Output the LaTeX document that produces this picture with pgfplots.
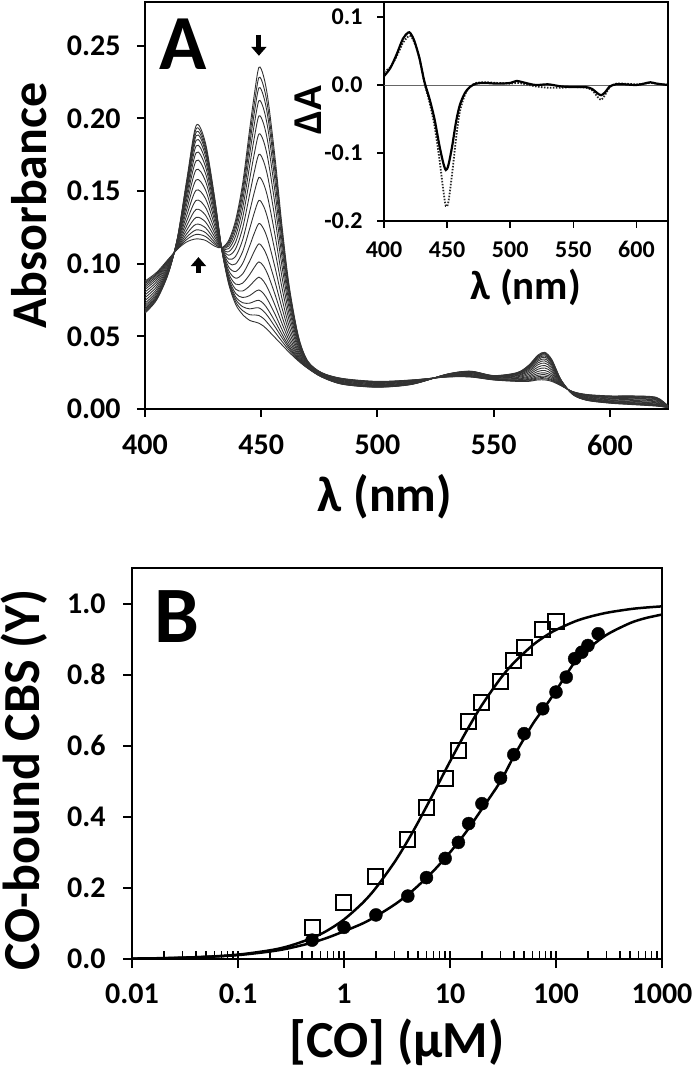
\documentclass[border=0pt]{standalone}
\usepackage{fontspec}
\setmainfont{Carlito}
\usepackage{pgfplots}
\usepackage{pgfplotstable}
\pgfplotsset{compat=1.18}
\usetikzlibrary{arrows.meta}
\newcommand{\fs}[1]{\fontsize{#1}{#1}\selectfont\bfseries}

\pgfplotstableread{
lam c1 c2 c3 c4 c5 c6 c7 c8 c9 c10 c11 c12 c13 c14 c15 c16 c17 c18
400 0.088 0.0871 0.0862 0.0851 0.0838 0.0823 0.0805 0.0785 0.0766 0.0746 0.0728 0.0713 0.0700 0.0689 0.0680 0.0673 0.0667 0.066
405 0.094 0.0932 0.0925 0.0915 0.0904 0.0891 0.0875 0.0858 0.0841 0.0824 0.0809 0.0796 0.0784 0.0775 0.0767 0.0761 0.0756 0.075
410 0.103 0.1026 0.1022 0.1017 0.1011 0.1004 0.0996 0.0987 0.0978 0.0969 0.0961 0.0954 0.0948 0.0943 0.0939 0.0936 0.0933 0.093
414 0.110 0.1103 0.1106 0.1110 0.1115 0.1121 0.1127 0.1134 0.1142 0.1149 0.1155 0.1161 0.1166 0.1170 0.1173 0.1175 0.1178 0.118
418 0.115 0.1167 0.1184 0.1206 0.1232 0.1262 0.1296 0.1335 0.1374 0.1412 0.1447 0.1477 0.1503 0.1524 0.1541 0.1554 0.1567 0.158
422 0.117 0.1201 0.1232 0.1271 0.1318 0.1373 0.1435 0.1505 0.1576 0.1646 0.1708 0.1763 0.1810 0.1849 0.1880 0.1903 0.1927 0.195
426 0.116 0.1187 0.1214 0.1247 0.1287 0.1334 0.1388 0.1448 0.1508 0.1569 0.1622 0.1669 0.1709 0.1743 0.1770 0.1790 0.1810 0.183
430 0.112 0.1133 0.1146 0.1163 0.1183 0.1206 0.1232 0.1262 0.1292 0.1321 0.1348 0.1371 0.1391 0.1407 0.1420 0.1430 0.1440 0.145
433 0.111 0.1110 0.1109 0.1109 0.1108 0.1107 0.1107 0.1106 0.1105 0.1104 0.1103 0.1102 0.1102 0.1101 0.1101 0.1101 0.1100 0.110
436 0.116 0.1148 0.1136 0.1121 0.1103 0.1082 0.1058 0.1031 0.1004 0.0977 0.0953 0.0932 0.0914 0.0899 0.0887 0.0878 0.0869 0.086
439 0.130 0.1277 0.1254 0.1225 0.1190 0.1149 0.1103 0.1051 0.0998 0.0946 0.0900 0.0859 0.0824 0.0795 0.0772 0.0755 0.0737 0.072
442 0.155 0.1514 0.1478 0.1433 0.1379 0.1316 0.1244 0.1163 0.1082 0.1001 0.0929 0.0866 0.0812 0.0767 0.0731 0.0704 0.0677 0.065
445 0.192 0.1868 0.1815 0.1750 0.1671 0.1579 0.1475 0.1357 0.1239 0.1121 0.1016 0.0924 0.0846 0.0780 0.0728 0.0689 0.0649 0.061
447 0.216 0.2098 0.2035 0.1957 0.1864 0.1754 0.1630 0.1489 0.1349 0.1208 0.1084 0.0974 0.0881 0.0803 0.0740 0.0694 0.0647 0.060
449 0.235 0.2280 0.2209 0.2121 0.2016 0.1892 0.1752 0.1593 0.1435 0.1276 0.1136 0.1012 0.0907 0.0819 0.0748 0.0696 0.0643 0.059
451 0.229 0.2221 0.2152 0.2066 0.1963 0.1843 0.1705 0.1550 0.1396 0.1241 0.1103 0.0983 0.0880 0.0794 0.0725 0.0673 0.0622 0.057
453 0.212 0.2057 0.1994 0.1915 0.1820 0.1709 0.1583 0.1441 0.1298 0.1156 0.1030 0.0919 0.0824 0.0745 0.0682 0.0635 0.0587 0.054
456 0.172 0.1671 0.1622 0.1560 0.1486 0.1400 0.1302 0.1191 0.1080 0.0970 0.0871 0.0785 0.0711 0.0650 0.0601 0.0564 0.0527 0.049
459 0.125 0.1218 0.1185 0.1145 0.1096 0.1039 0.0975 0.0902 0.0829 0.0756 0.0691 0.0634 0.0586 0.0545 0.0513 0.0489 0.0464 0.044
462 0.085 0.0832 0.0813 0.0790 0.0763 0.0730 0.0694 0.0652 0.0611 0.0569 0.0533 0.0500 0.0473 0.0450 0.0431 0.0418 0.0404 0.039
466 0.050 0.0493 0.0486 0.0478 0.0468 0.0456 0.0442 0.0427 0.0412 0.0396 0.0383 0.0371 0.0361 0.0352 0.0345 0.0340 0.0335 0.033
470 0.033 0.0328 0.0326 0.0323 0.0320 0.0317 0.0313 0.0308 0.0304 0.0299 0.0295 0.0292 0.0289 0.0286 0.0284 0.0283 0.0281 0.028
476 0.025 0.0249 0.0248 0.0246 0.0244 0.0242 0.0240 0.0237 0.0234 0.0232 0.0229 0.0227 0.0225 0.0224 0.0223 0.0222 0.0221 0.022
485 0.021 0.0208 0.0207 0.0205 0.0202 0.0200 0.0196 0.0193 0.0189 0.0186 0.0182 0.0180 0.0177 0.0175 0.0174 0.0172 0.0171 0.017
500 0.019 0.0188 0.0187 0.0185 0.0182 0.0180 0.0176 0.0173 0.0169 0.0166 0.0162 0.0160 0.0157 0.0155 0.0154 0.0152 0.0151 0.015
515 0.020 0.0199 0.0198 0.0196 0.0194 0.0192 0.0190 0.0187 0.0184 0.0182 0.0179 0.0177 0.0175 0.0174 0.0173 0.0172 0.0171 0.017
530 0.022 0.0221 0.0222 0.0223 0.0224 0.0225 0.0227 0.0229 0.0230 0.0232 0.0234 0.0235 0.0236 0.0237 0.0238 0.0239 0.0239 0.024
540 0.022 0.0222 0.0223 0.0225 0.0228 0.0230 0.0234 0.0237 0.0241 0.0244 0.0248 0.0250 0.0253 0.0255 0.0256 0.0258 0.0259 0.026
550 0.020 0.0201 0.0202 0.0204 0.0206 0.0208 0.0210 0.0213 0.0216 0.0218 0.0221 0.0223 0.0225 0.0226 0.0227 0.0228 0.0229 0.023
560 0.019 0.0192 0.0195 0.0198 0.0201 0.0206 0.0210 0.0216 0.0221 0.0227 0.0231 0.0236 0.0239 0.0242 0.0245 0.0246 0.0248 0.025
565 0.019 0.0194 0.0199 0.0204 0.0211 0.0219 0.0227 0.0237 0.0247 0.0257 0.0266 0.0274 0.0280 0.0286 0.0290 0.0293 0.0297 0.030
569 0.020 0.0207 0.0214 0.0222 0.0232 0.0244 0.0258 0.0273 0.0288 0.0304 0.0317 0.0329 0.0339 0.0348 0.0355 0.0360 0.0365 0.037
572 0.020 0.0208 0.0215 0.0225 0.0236 0.0249 0.0265 0.0282 0.0299 0.0316 0.0331 0.0344 0.0356 0.0365 0.0373 0.0379 0.0384 0.039
575 0.019 0.0196 0.0202 0.0210 0.0219 0.0229 0.0241 0.0255 0.0268 0.0282 0.0294 0.0304 0.0313 0.0321 0.0327 0.0331 0.0336 0.034
579 0.016 0.0162 0.0163 0.0165 0.0168 0.0170 0.0174 0.0177 0.0181 0.0184 0.0188 0.0190 0.0193 0.0195 0.0196 0.0198 0.0199 0.020
584 0.012 0.0119 0.0118 0.0117 0.0116 0.0115 0.0113 0.0111 0.0110 0.0108 0.0106 0.0105 0.0104 0.0103 0.0102 0.0101 0.0101 0.010
590 0.010 0.0098 0.0097 0.0095 0.0092 0.0090 0.0086 0.0083 0.0079 0.0076 0.0072 0.0070 0.0067 0.0065 0.0064 0.0062 0.0061 0.006
600 0.009 0.0088 0.0086 0.0084 0.0081 0.0077 0.0073 0.0069 0.0064 0.0060 0.0056 0.0052 0.0049 0.0047 0.0045 0.0044 0.0042 0.004
610 0.009 0.0088 0.0085 0.0082 0.0079 0.0074 0.0070 0.0064 0.0059 0.0053 0.0049 0.0044 0.0041 0.0038 0.0035 0.0034 0.0032 0.003
620 0.008 0.0078 0.0075 0.0072 0.0069 0.0064 0.0060 0.0054 0.0049 0.0043 0.0039 0.0034 0.0031 0.0028 0.0025 0.0024 0.0022 0.002
625 0.002 0.0020 0.0020 0.0020 0.0020 0.0020 0.0020 0.0020 0.0015 0.0015 0.0015 0.0013 0.0012 0.0011 0.0011 0.0010 0.0010 0.001
}\spectra

\pgfplotstableread{
lam s d
400 0.013 0.020
405 0.025 0.026
410 0.045 0.042
415 0.068 0.062
419 0.077 0.071
421 0.076 0.072
424 0.065 0.063
428 0.040 0.040
432 0.005 0.003
436 -0.020 -0.025
440 -0.050 -0.060
444 -0.090 -0.110
447 -0.115 -0.155
449 -0.125 -0.178
451 -0.118 -0.172
454 -0.090 -0.130
457 -0.055 -0.080
460 -0.030 -0.040
464 -0.012 -0.015
468 -0.003 -0.003
473 0.002 0.003
480 0.003 0.004
490 0.002 0.003
500 0.003 0.002
505 0.006 0.003
510 0.004 0.002
520 0.000 -0.002
530 0.001 -0.004
540 -0.002 -0.004
550 -0.003 -0.003
560 -0.003 -0.004
565 -0.006 -0.008
569 -0.012 -0.017
572 -0.015 -0.022
575 -0.011 -0.015
579 -0.002 -0.003
584 0.001 0.002
590 0.001 0.002
600 0.000 0.001
606 0.002 0.002
611 0.004 0.003
616 0.002 0.002
625 0.000 0.000
}\diffA

\pgfplotstableread{
x y
0.5 0.088
1 0.160
2 0.231
4 0.336
6 0.426
9 0.508
12 0.587
15 0.667
20 0.723
30 0.782
40 0.840
50 0.875
75 0.926
100 0.950
}\squares

\pgfplotstableread{
x y
0.5 0.053
1 0.089
2 0.124
4 0.177
6 0.229
9 0.283
12 0.328
15 0.381
20 0.437
30 0.509
40 0.575
50 0.634
75 0.704
100 0.751
125 0.793
150 0.845
175 0.863
200 0.882
250 0.915
}\circles

\pgfplotstableread{
x y
0.01 0.00125
0.02 0.0025
0.05 0.0062
0.1 0.0123
0.2 0.0244
0.3 0.0361
0.5 0.0588
0.7 0.0805
1 0.1111
1.5 0.1579
2 0.2
3 0.2727
4 0.3333
5 0.3846
7 0.4667
10 0.5556
14 0.6364
20 0.7143
30 0.7895
40 0.8333
60 0.8824
80 0.9091
100 0.9259
150 0.9494
200 0.9615
300 0.9740
500 0.9843
700 0.9887
1000 0.9921
}\fitsq

\pgfplotstableread{
x y
0.01 0.001
0.02 0.002
0.05 0.006
0.1 0.011
0.2 0.021
0.3 0.030
0.5 0.046
0.7 0.060
1 0.078
1.5 0.100
2 0.120
3 0.153
4 0.181
5 0.206
7 0.248
10 0.300
14 0.355
20 0.422
30 0.500
40 0.570
60 0.660
80 0.712
100 0.755
150 0.835
200 0.872
300 0.912
500 0.945
700 0.959
1000 0.969
}\fitci

\begin{document}
\begin{tikzpicture}
\useasboundingbox (0pt,0pt) rectangle (693pt,1077pt);

% ---------------- Panel A ----------------
\begin{axis}[
  at={(145pt,668pt)}, anchor=south west,
  scale only axis, width=523pt, height=407pt,
  xmin=400, xmax=625, ymin=0, ymax=0.28,
  axis line style={line width=2.2pt},
  xtick={400,450,500,550,600}, xticklabels={400,450,500,550,600},
  ytick={0,0.05,0.1,0.15,0.2,0.25},
  yticklabels={0.00,0.05,0.10,0.15,0.20,0.25},
  xtick pos=bottom, ytick pos=left, tick align=outside,
  major tick length=8pt,
  tick style={line width=2pt, black},
  tick label style={font=\fs{30}},
  yticklabel style={xshift=-13pt},
  xticklabel style={yshift=-14pt},
  xlabel={λ (nm)}, ylabel={Absorbance},
  xlabel style={font=\fs{50}, at={(axis description cs:0.459,-0.216)}, anchor=center},
  ylabel style={font=\fs{50}, at={(axis description cs:-0.222,0.5)}, anchor=center},
]
\pgfplotsinvokeforeach{1,...,18}{
  \addplot[black!80, line width=0.9pt, smooth] table[x=lam, y=c#1] {\spectra};
}
\draw[line width=5pt, -{Triangle[width=15pt,length=9pt]}] (axis cs:449,0.2575) -- (axis cs:449,0.2430);
\draw[line width=5pt, -{Triangle[width=15pt,length=9pt]}] (axis cs:423,0.0935) -- (axis cs:423,0.1045);
\node[font=\fs{78}] at (axis cs:416.5,0.251) {A};
\end{axis}

% ---------------- Inset ----------------
\begin{axis}[
  at={(384pt,856pt)}, anchor=south west,
  scale only axis, width=284pt, height=217.6pt,
  xmin=400, xmax=625, ymin=-0.2, ymax=0.12,
  axis x line*=bottom, axis y line*=left,
  axis line style={line width=1.5pt},
  xtick={400,450,500,550,600}, xticklabels={400,450,500,550,600},
  ytick={-0.2,-0.1,0,0.1}, yticklabels={-0.2,-0.1,0.0,0.1},
  tick align=outside, major tick length=7pt,
  tick style={line width=1.5pt, black},
  tick label style={font=\fs{24}},
  yticklabel style={xshift=-11pt},
  xticklabel style={yshift=-10pt},
  xlabel={λ (nm)}, ylabel={ΔA},
  xlabel style={font=\fs{41}, at={(axis description cs:0.5,-0.303)}, anchor=center},
  ylabel style={font=\fs{41}, at={(axis description cs:-0.268,0.51)}, anchor=center},
]
\addplot[black!60, line width=0.8pt] coordinates {(400,0) (625,0)};
\addplot[black!85, line width=1.8pt, dash pattern=on 1.5pt off 1.5pt, smooth] table[x=lam, y=d] {\diffA};
\addplot[black, line width=2.2pt, smooth] table[x=lam, y=s] {\diffA};
\end{axis}

% ---------------- Panel B ----------------
\begin{axis}[
  at={(132pt,118pt)}, anchor=south west,
  scale only axis, width=530pt, height=391pt,
  xmode=log, xmin=0.01, xmax=1000, ymin=0, ymax=1.1,
  axis line style={line width=2pt},
  xtick={0.01,0.1,1,10,100,1000}, xticklabels={0.01,0.1,1,10,100,1000},
  ytick={0,0.2,0.4,0.6,0.8,1.0}, yticklabels={0.0,0.2,0.4,0.6,0.8,1.0},
  xtick pos=bottom, ytick pos=left, tick align=outside,
  major tick length=9pt, minor tick length=8pt,
  every minor x tick/.append style={yshift=8pt},
  extra x ticks={0.01,0.1,1,10,100,1000}, extra x tick labels={},
  extra x tick style={tick align=inside, major tick length=7pt},
  tick style={line width=2pt, black},
  minor tick style={line width=1.5pt, black},
  tick label style={font=\fs{30}},
  yticklabel style={xshift=-14pt},
  xticklabel style={yshift=-12pt},
  xlabel={[CO] (µM)}, ylabel={CO-bound CBS (Y)},
  xlabel style={font=\fs{52}, at={(axis description cs:0.5,-0.212)}, anchor=center},
  ylabel style={font=\fs{52}, at={(axis description cs:-0.204,0.458)}, anchor=center},
]
\addplot[black, line width=2.5pt, smooth] table[x=x, y=y] {\fitsq};
\addplot[black, line width=2.5pt, smooth] table[x=x, y=y] {\fitci};
\addplot[only marks, mark=square, mark size=7.5pt, mark options={line width=2pt, black}] table[x=x, y=y] {\squares};
\addplot[only marks, mark=*, mark size=6.5pt, mark options={black, fill=black}] table[x=x, y=y] {\circles};
\node[font=\fs{80}] at (axis cs:0.0266,0.963) {B};
\end{axis}
\end{tikzpicture}
\end{document}
